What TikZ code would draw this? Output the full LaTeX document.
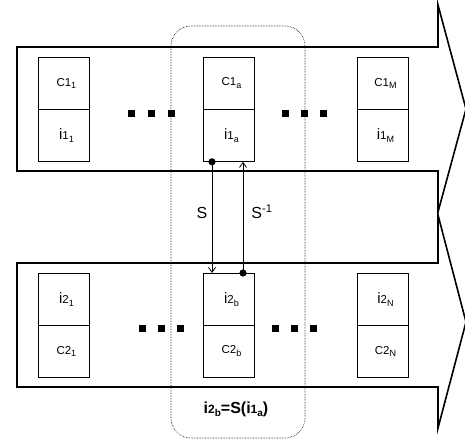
\documentclass[tikz,border=0pt]{standalone}
\usepackage{fontspec}
\setmainfont{Liberation Sans}
\usetikzlibrary{arrows.meta,calc}
\newcommand\sbx[1]{\raisebox{-2.8pt}{\fontsize{9}{9}\selectfont #1}}
\newcommand\ctxt[2]{{\fontsize{11.5}{11.5}\selectfont C#1\sbx{#2}}}
\newcommand\itxt[2]{{\fontsize{15}{15}\selectfont i}{\fontsize{11.5}{11.5}\selectfont #1\sbx{#2}}}
\begin{document}
\begin{tikzpicture}[x=1pt,y=-1pt,
  bigarrow/.style={draw,line width=1.6pt,line join=miter},
  cell/.style={draw,line width=0.8pt,minimum width=51pt,minimum height=52pt,inner sep=0pt,anchor=north west},
  sq/.style={fill=black,minimum size=7pt,inner sep=0pt},
  group/.style={draw,densely dotted,line width=0.6pt,rounded corners=20pt},
  conn/.style={line width=0.8pt,-{Straight Barb[length=5pt,width=7pt]}},
  ball/.style={fill=black}]
\useasboundingbox (0,0) rectangle (465,441);
% big arrows
\draw[bigarrow] (17,47) -- (438,47) -- (438,5) -- (466,109) -- (438,212) -- (438,171) -- (17,171) -- cycle;
\draw[bigarrow] (17,263) -- (438,263) -- (438,215) -- (466,322) -- (438,428) -- (438,387) -- (17,387) -- cycle;
% top row cells
\node[cell] (c11) at (38,57) {\hspace*{5pt}\ctxt{1}{1}};
\node[cell] (i11) at (38,109) {\hspace*{5pt}\itxt{1}{1}};
\node[cell] (c1a) at (203,57) {\hspace*{5pt}\ctxt{1}{a}};
\node[cell] (i1a) at (203,109) {\hspace*{5pt}\itxt{1}{a}};
\node[cell] (c1M) at (357,57) {\hspace*{5pt}\ctxt{1}{M}};
\node[cell] (i1M) at (357,109) {\hspace*{5pt}\itxt{1}{M}};
% bottom row cells
\node[cell] (i21) at (38,273) {\hspace*{5pt}\itxt{2}{1}};
\node[cell] (c21) at (38,325) {\hspace*{5pt}\ctxt{2}{1}};
\node[cell] (i2b) at (203,273) {\hspace*{5pt}\itxt{2}{b}};
\node[cell] (c2b) at (203,325) {\hspace*{5pt}\ctxt{2}{b}};
\node[cell] (i2N) at (357,273) {\hspace*{5pt}\itxt{2}{N}};
\node[cell] (c2N) at (357,325) {\hspace*{5pt}\ctxt{2}{N}};
% ellipsis squares
\foreach \x/\n in {131/a,151/b,171/c,285/d,304/e,323/f} \node[sq] (t\n) at (\x,113) {};
\foreach \x/\n in {142/a,161/b,180/c,275/d,294/e,313/f} \node[sq] (b\n) at (\x,328) {};
% dotted group
\draw[group] (171,26) rectangle (305,438);
% connectors
\coordinate (sA) at ($(i1a.south west)+(9,0)$);
\coordinate (sB) at ($(i2b.north west)+(9,0)$);
\coordinate (rA) at ($(i2b.north west)+(40,0)$);
\coordinate (rB) at ($(i1a.south west)+(40,0)$);
\draw[conn] (sA) -- (sB);
\draw[conn] (rA) -- (rB);
\fill[ball] (sA) circle (3.6pt);
\fill[ball] (rA) circle (3.6pt);
\node (Slbl) at (202,213) {\fontsize{16}{16}\selectfont S};
\node (Sinv) at (262,212) {\fontsize{16}{16}\selectfont S\textsuperscript{-1}};
\node (eq) at (236,409) {\bfseries{\fontsize{16}{16}\selectfont i}{\fontsize{12}{12}\selectfont 2\raisebox{-3pt}{\fontsize{10}{10}\selectfont b}}{\fontsize{16}{16}\selectfont =S(i}{\fontsize{12}{12}\selectfont 1\raisebox{-3pt}{\fontsize{10}{10}\selectfont a}}{\fontsize{16}{16}\selectfont )}};
\end{tikzpicture}
\end{document}
